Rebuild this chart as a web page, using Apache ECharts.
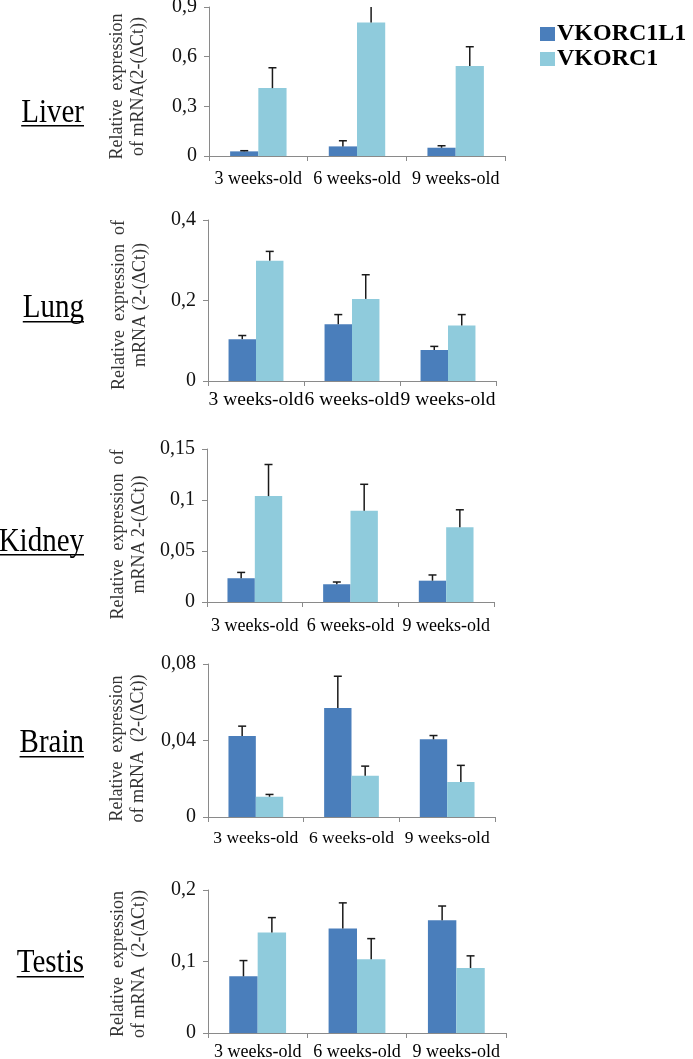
<!DOCTYPE html>
<html>
<head>
<meta charset="utf-8">
<script src="https://cdn.jsdelivr.net/npm/echarts@6/dist/echarts.min.js"></script>
<style>
  html, body { margin: 0; padding: 0; background: #fff; }
  #chart { width: 693px; height: 1059px; }
</style>
</head>
<body>
<div id="chart"></div>
<script>
// categories
const ages = ['3 weeks-old', '6 weeks-old', '9 weeks-old'];
const genes = ['VKORC1L1', 'VKORC1'];

// mean expression and upper error
const liverL1 = [0.028, 0.058, 0.050];
const liverL1Err = [0.004, 0.034, 0.012];
const liverC1 = [0.410, 0.807, 0.543];
const liverC1Err = [0.123, 0.140, 0.117];

const lungL1 = [0.104, 0.141, 0.077];
const lungL1Err = [0.009, 0.024, 0.009];
const lungC1 = [0.299, 0.204, 0.138];
const lungC1Err = [0.023, 0.060, 0.027];

const kidneyL1 = [0.0233, 0.0174, 0.0209];
const kidneyL1Err = [0.0057, 0.0022, 0.0056];
const kidneyC1 = [0.1038, 0.0894, 0.0734];
const kidneyC1Err = [0.031, 0.026, 0.017];

const brainL1 = [0.0424, 0.0570, 0.0406];
const brainL1Err = [0.0051, 0.0166, 0.0020];
const brainC1 = [0.0106, 0.0216, 0.0183];
const brainC1Err = [0.0012, 0.0050, 0.0087];

const testisL1 = [0.0793, 0.146, 0.1576];
const testisL1Err = [0.022, 0.036, 0.020];
const testisC1 = [0.1404, 0.103, 0.0909];
const testisC1Err = [0.021, 0.029, 0.017];

// y tick labels
const liverTicks = [0, 0.3, 0.6, 0.9];
const lungTicks = [0, 0.2, 0.4];
const kidneyTicks = [0, 0.05, 0.1, 0.15];
const brainTicks = [0, 0.04, 0.08];
const testisTicks = [0, 0.1, 0.2];

const panels = [
  { organ: 'Liver', l1: liverL1, l1Err: liverL1Err, c1: liverC1, c1Err: liverC1Err, ticks: liverTicks,
    yName: 'Relative  expression\nof mRNA(2-(\u0394Ct))' },
  { organ: 'Lung', l1: lungL1, l1Err: lungL1Err, c1: lungC1, c1Err: lungC1Err, ticks: lungTicks,
    yName: 'Relative  expression  of\nmRNA (2-(\u0394Ct))' },
  { organ: 'Kidney', l1: kidneyL1, l1Err: kidneyL1Err, c1: kidneyC1, c1Err: kidneyC1Err, ticks: kidneyTicks,
    yName: 'Relative  expression  of\nmRNA 2-(\u0394Ct))' },
  { organ: 'Brain', l1: brainL1, l1Err: brainL1Err, c1: brainC1, c1Err: brainC1Err, ticks: brainTicks,
    yName: 'Relative  expression\nof mRNA  (2-(\u0394Ct))' },
  { organ: 'Testis', l1: testisL1, l1Err: testisL1Err, c1: testisC1, c1Err: testisC1Err, ticks: testisTicks,
    yName: 'Relative  expression\nof mRNA  (2-(\u0394Ct))' }
];

// layout of each panel (px)
const layouts = [
  { left: 209, right: 188, top: 7, height: 149, nameGap: 60, nameShift: 10, xFont: 18, xMargin: 14, labelY: 113, lineY: 125 },
  { left: 208, right: 197, top: 220, height: 161, nameGap: 57, nameShift: 9, xFont: 19.5, xMargin: 9, labelY: 308, lineY: 321 },
  { left: 207, right: 199, top: 449, height: 153, nameGap: 57, nameShift: 18, xFont: 18, xMargin: 15, labelY: 542, lineY: 554 },
  { left: 208, right: 198, top: 664, height: 153, nameGap: 59, nameShift: 16, xFont: 17.5, xMargin: 12, labelY: 743, lineY: 756 },
  { left: 208, right: 187, top: 890, height: 143, nameGap: 58, nameShift: 5, xFont: 18, xMargin: 10, labelY: 963, lineY: 976 }
];

const SERIF = '"Times New Roman", "Liberation Serif", serif';
const DARK = '#4a7ebb';
const LIGHT = '#8fcbdc';
const AXIS = '#8a8a8a';
const BAR_FRAC = 0.286;

const fmt = v => String(+v.toFixed(3)).replace('.', ',');

const measureCtx = document.createElement('canvas').getContext('2d');
const textWidth = (txt, font) => { measureCtx.font = font; return measureCtx.measureText(txt).width; };

// upward error bar, side -1 = left bar, +1 = right bar
function errorBar(side) {
  return (params, api) => {
    const idx = api.value(0), val = api.value(1), err = api.value(2);
    const base = api.coord([idx, val]);
    const top = api.coord([idx, val + err]);
    const bw = api.size([1, 0])[0] * BAR_FRAC;
    const cx = base[0] + side * bw / 2;
    const style = { stroke: '#1a1a1a', lineWidth: 1.5 };
    return {
      type: 'group',
      children: [
        { type: 'line', shape: { x1: cx, y1: base[1], x2: cx, y2: top[1] }, style },
        { type: 'line', shape: { x1: cx - 4, y1: top[1], x2: cx + 4, y2: top[1] }, style }
      ]
    };
  };
}

const grid = [], xAxis = [], yAxis = [], series = [], graphic = [];

panels.forEach((p, i) => {
  const lay = layouts[i];
  const t = p.ticks;
  grid.push({ left: lay.left, right: lay.right, top: lay.top, height: lay.height, outerBoundsMode: 'none' });

  xAxis.push({
    type: 'category', gridIndex: i, data: ages,
    axisLine: { lineStyle: { color: AXIS, width: 1 } },
    axisTick: { show: true, alignWithLabel: false, length: 5, lineStyle: { color: AXIS } },
    axisLabel: { interval: 0, hideOverlap: false, margin: lay.xMargin, color: '#000', fontFamily: SERIF, fontSize: lay.xFont },
    splitLine: { show: false }
  });

  yAxis.push({
    type: 'value', gridIndex: i,
    min: t[0], max: t[t.length - 1], interval: t[1] - t[0],
    axisLine: { show: true, lineStyle: { color: AXIS, width: 1 } },
    axisTick: { show: true, length: 5, lineStyle: { color: AXIS } },
    axisLabel: { margin: 12, color: '#111', fontFamily: SERIF, fontSize: 20, formatter: fmt },
    splitLine: { show: false },
    name: p.yName, nameLocation: 'middle', nameRotate: 90, nameGap: lay.nameGap,
    nameTextStyle: { fontFamily: SERIF, fontSize: 18, lineHeight: 21, color: '#333', padding: [0, lay.nameShift, 0, 0] }
  });

  series.push(
    { type: 'bar', name: genes[0], xAxisIndex: i, yAxisIndex: i, data: p.l1,
      barWidth: (BAR_FRAC * 100) + '%', barGap: '0%', itemStyle: { color: DARK } },
    { type: 'bar', name: genes[1], xAxisIndex: i, yAxisIndex: i, data: p.c1,
      barWidth: (BAR_FRAC * 100) + '%', barGap: '0%', itemStyle: { color: LIGHT } },
    { type: 'custom', xAxisIndex: i, yAxisIndex: i, clip: true, z: 5, silent: true,
      renderItem: errorBar(-1), encode: { x: 0, y: 1 },
      data: ages.map((a, k) => [k, p.l1[k], p.l1Err[k]]) },
    { type: 'custom', xAxisIndex: i, yAxisIndex: i, clip: true, z: 5, silent: true,
      renderItem: errorBar(1), encode: { x: 0, y: 1 },
      data: ages.map((a, k) => [k, p.c1[k], p.c1Err[k]]) }
  );

  // underlined organ name
  const font = '29px ' + SERIF;
  const w = textWidth(p.organ, font);
  graphic.push(
    { type: 'text', x: 84, y: lay.labelY, scaleY: 1.15,
      style: { text: p.organ, font, fill: '#000', textAlign: 'right', textVerticalAlign: 'middle' } },
    { type: 'rect', shape: { x: 84 - w, y: lay.lineY, width: w, height: 1.5 }, style: { fill: '#000' } }
  );
});

const chart = echarts.init(document.getElementById('chart'), null, { renderer: 'canvas' });
chart.setOption({
  backgroundColor: '#fff',
  animation: false,
  legend: {
    data: genes, orient: 'vertical', left: 535, top: 17, itemGap: 1,
    icon: 'rect', itemWidth: 15, itemHeight: 14, selectedMode: false,
    textStyle: { fontFamily: SERIF, fontWeight: 'bold', fontSize: 24, color: '#000', padding: [0, 0, 0, -3] }
  },
  grid, xAxis, yAxis, series, graphic
});
</script>
</body>
</html>
